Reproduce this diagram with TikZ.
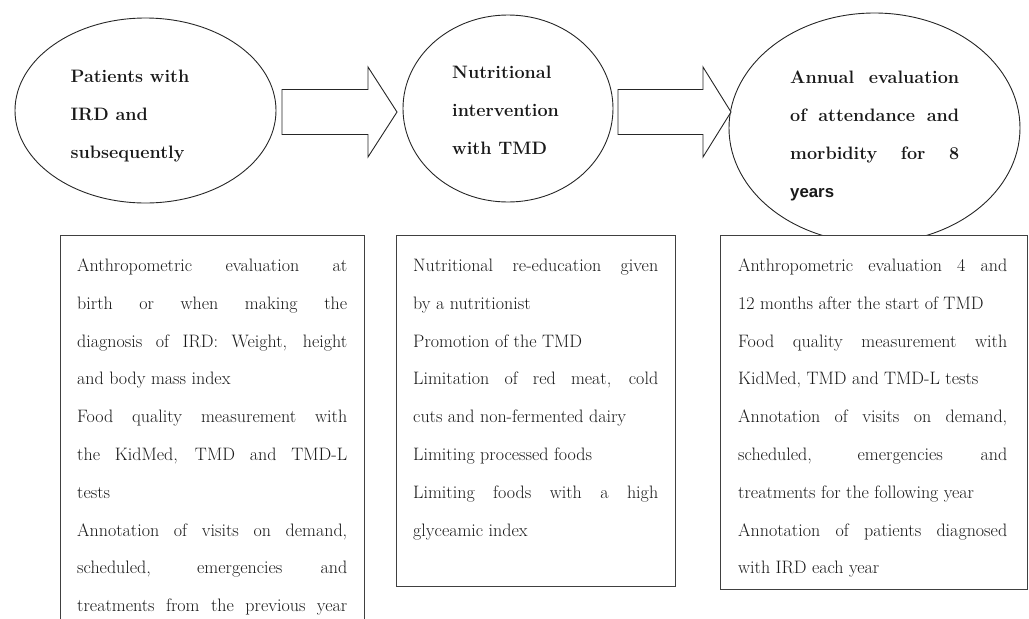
\documentclass[tikz,border=0pt]{standalone}
\usepackage{fontspec}
\newfontfamily\yearsfont{Liberation Sans}
\usetikzlibrary{shapes.geometric,calc}
\newcommand\jl[1]{\hbox to\hsize{#1}}
\newcommand\pl[1]{\hbox{#1}}
\newcommand\linesbox[2]{\vtop{\hsize=#1\relax #2}}
\hbadness=10000
\hfuzz=8pt
\begin{document}
\begin{tikzpicture}[x=1pt,y=-1pt,
  ell/.style={draw=black!85, line width=0.9pt, ellipse, inner sep=0pt},
  boxnode/.style={draw=black!75, line width=1.1pt, rectangle, inner sep=0pt, fill=white, anchor=north west},
  body/.style={anchor=base west, inner sep=0pt, font=\fontsize{18}{37.8}\selectfont, text=black!90},
  head/.style={anchor=base west, inner sep=0pt, font=\fontsize{18}{38}\selectfont\bfseries, text=black!90},
  barrow/.style={draw=black!85, line width=0.9pt, fill=white, line join=miter}]
\useasboundingbox (0,0) rectangle (1029,619);
\clip (0,0) rectangle (1029,619);

% ellipses
\node[ell, minimum width=261pt, minimum height=185pt] (e1) at (145.5,110.5) {};
\node[ell, minimum width=210pt, minimum height=187pt] (e2) at (508,108.5) {};
\node[ell, minimum width=291pt, minimum height=230pt] (e3) at (874.5,128) {};

% block arrows between ellipses
\coordinate (a1s) at (282,112);
\coordinate (a1t) at (397,112);
\coordinate (a2s) at (618,112);
\coordinate (a2t) at (731,112);
\draw[barrow] ($(a1s)+(0,-22.5)$) -- ($(a1t)+(-29,-22.5)$) -- ($(a1t)+(-29,-45)$) -- (a1t)
  -- ($(a1t)+(-29,45)$) -- ($(a1t)+(-29,22.5)$) -- ($(a1s)+(0,22.5)$) -- cycle;
\draw[barrow] ($(a2s)+(0,-22.5)$) -- ($(a2t)+(-28,-22.5)$) -- ($(a2t)+(-28,-45)$) -- (a2t)
  -- ($(a2t)+(-28,45)$) -- ($(a2t)+(-28,22.5)$) -- ($(a2s)+(0,22.5)$) -- cycle;

% ellipse texts
\node[head] (h1) at (70.5,82) {\linesbox{140pt}{\pl{Patients with}\pl{IRD and}\pl{subsequently}}};
\node[head] (h2) at (452,78) {\linesbox{140pt}{\pl{Nutritional}\pl{intervention}\pl{with TMD}}};
\node[head] (h3) at (790,83) {\linesbox{169pt}{\jl{Annual evaluation}\jl{of attendance and}\jl{morbidity for 8}\pl{\yearsfont\bfseries\fontsize{16.8}{38}\selectfont years}}};

% boxes
\node[boxnode, minimum width=304pt, minimum height=420pt] (b1) at (60,235) {};
\node[boxnode, minimum width=279pt, minimum height=351pt] (b2) at (396,235) {};
\node[boxnode, minimum width=307pt, minimum height=354pt] (b3) at (720,235) {};

% box texts
\node[body] (t1) at (77,271.5) {\linesbox{270pt}{%
\jl{Anthropometric evaluation at}%
\jl{birth or when making the}%
\jl{diagnosis of IRD: Weight, height}%
\pl{and body mass index}%
\jl{Food quality measurement with}%
\jl{the KidMed, TMD and TMD-L}%
\pl{tests}%
\jl{Annotation of visits on demand,}%
\jl{scheduled, emergencies and}%
\jl{treatments from the previous year}}};

\node[body] (t2) at (413,271.5) {\linesbox{245pt}{%
\jl{Nutritional re-education given}%
\pl{by a nutritionist}%
\pl{Promotion of the TMD}%
\jl{Limitation of red meat, cold}%
\pl{cuts and non-fermented dairy}%
\pl{Limiting processed foods}%
\jl{Limiting foods with a high}%
\pl{glyceamic index}}};

\node[body] (t3) at (738,271.5) {\linesbox{269pt}{%
\jl{Anthropometric evaluation 4 and}%
\pl{12 months after the start of TMD}%
\jl{Food quality measurement with}%
\pl{KidMed, TMD and TMD-L tests}%
\jl{Annotation of visits on demand,}%
\jl{scheduled, emergencies and}%
\pl{treatments for the following year}%
\jl{Annotation of patients diagnosed}%
\pl{with IRD each year}}};
\end{tikzpicture}
\end{document}
